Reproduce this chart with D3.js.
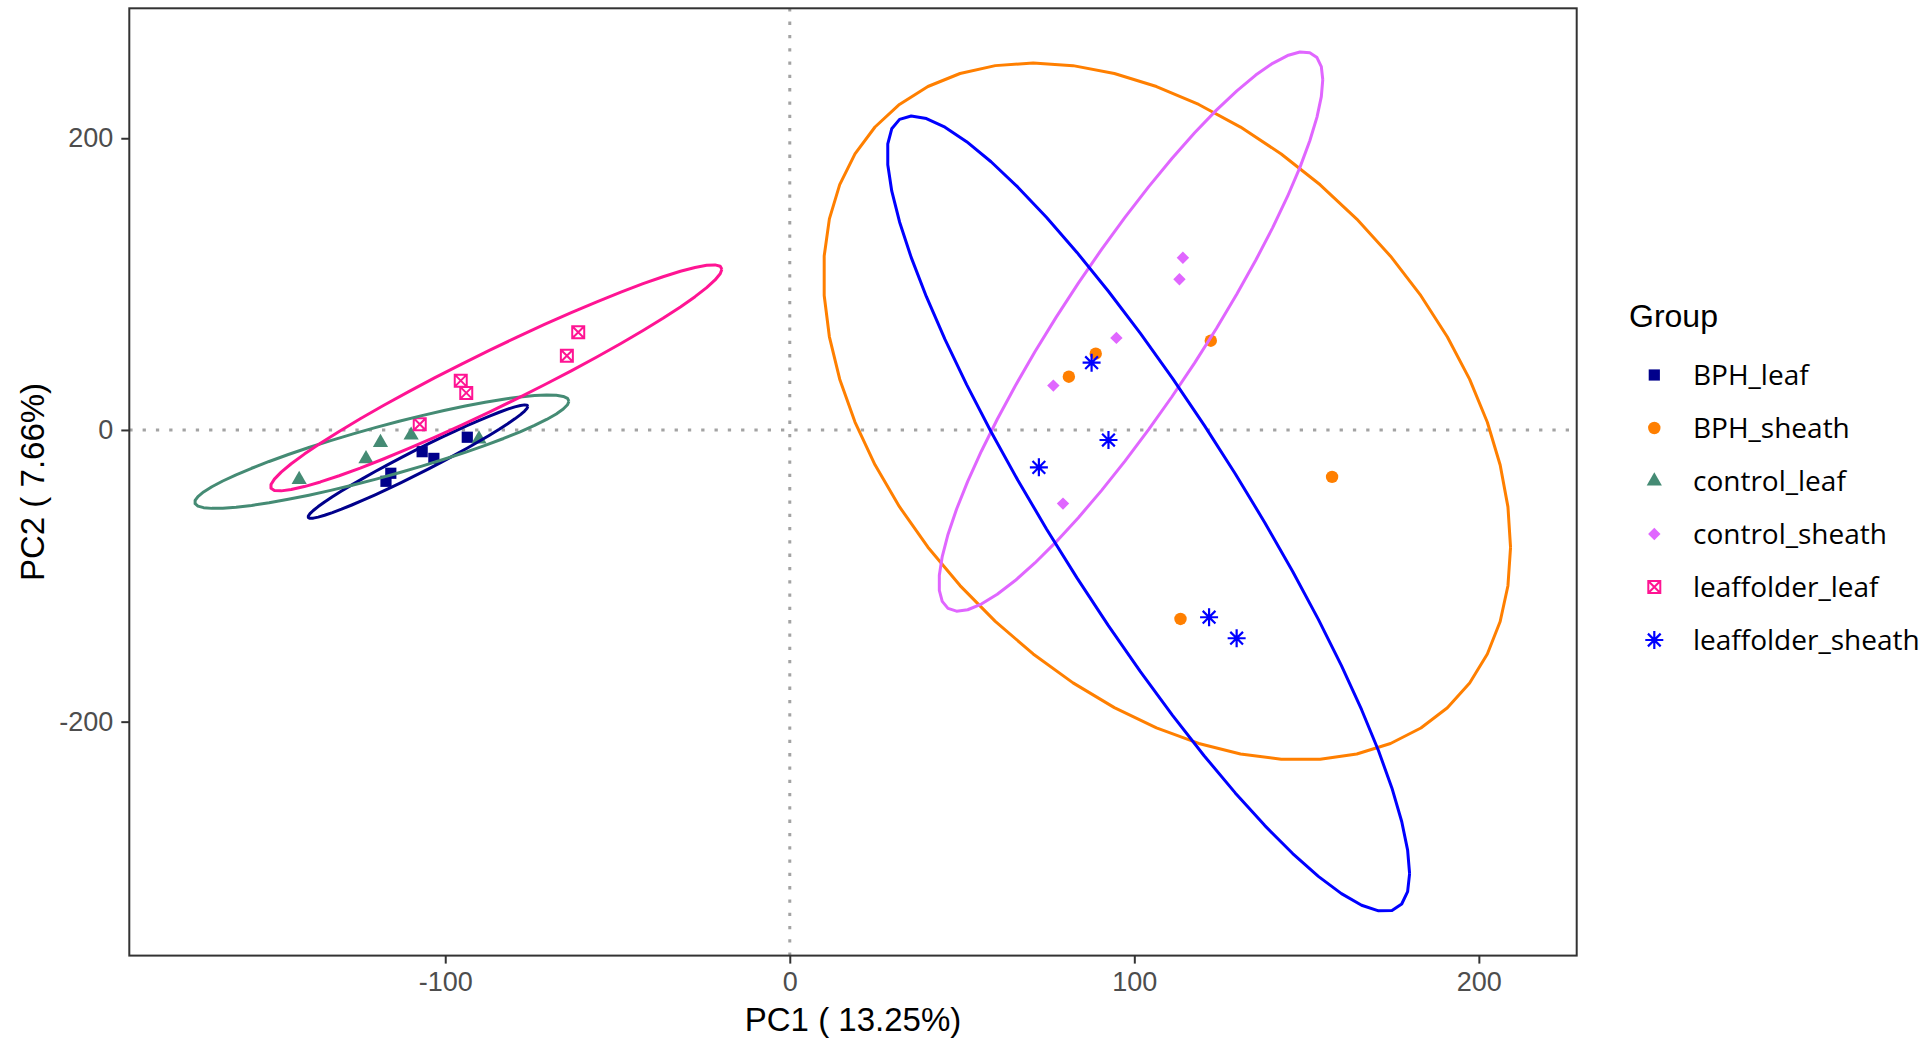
<!DOCTYPE html>
<html>
<head>
<meta charset="utf-8">
<script src="https://cdn.jsdelivr.net/npm/d3@7"></script>
<style>
  html, body { margin: 0; padding: 0; background: #ffffff; }
  svg { display: block; }
</style>
</head>
<body>
<svg id="chart" width="1929" height="1040"></svg>
<script>
// ---------------- data ----------------
const groups = ["BPH_leaf", "BPH_sheath", "control_leaf", "control_sheath", "leaffolder_leaf", "leaffolder_sheath"];
const groupColors = ["#00008B", "#FF7F00", "#458B74", "#E066FF", "#FF1493", "#0000FF"];
const groupShapes = ["square", "circle", "triangle", "diamond", "boxcross", "asterisk"];

const pointGroup = [
  "BPH_leaf", "BPH_leaf", "BPH_leaf", "BPH_leaf", "BPH_leaf",
  "BPH_sheath", "BPH_sheath", "BPH_sheath", "BPH_sheath", "BPH_sheath",
  "control_leaf", "control_leaf", "control_leaf", "control_leaf", "control_leaf",
  "control_sheath", "control_sheath", "control_sheath", "control_sheath", "control_sheath",
  "leaffolder_leaf", "leaffolder_leaf", "leaffolder_leaf", "leaffolder_leaf", "leaffolder_leaf",
  "leaffolder_sheath", "leaffolder_sheath", "leaffolder_sheath", "leaffolder_sheath", "leaffolder_sheath"
];
const pointPC1 = [
  -93.6, -106.7, -103.3, -115.8, -117.2,
  88.8, 81.0, 122.2, 157.4, 113.4,
  -142.4, -123.0, -118.8, -109.9, -90.2,
  114.1, 113.1, 94.8, 76.5, 79.3,
  -107.4, -95.5, -93.9, -64.7, -61.4,
  87.6, 92.5, 72.3, 121.7, 129.7
];
const pointPC2 = [
  -5.0, -14.9, -19.5, -29.7, -35.2,
  52.3, 36.5, 61.2, -32.2, -129.6,
  -34.0, -19.8, -8.6, -3.6, -6.2,
  118.1, 103.3, 63.1, 30.4, -50.5,
  3.9, 33.8, 25.4, 50.9, 67.0,
  46.1, -6.9, -25.6, -128.4, -142.8
];

// 95% ellipse per group (data units): centre, half-extent in x and y, correlation
const ellipseCx  = [-107.9, 109.5, -118.4, 99.0, -85.2, 104.1];
const ellipseCy  = [-21.7, 12.7, -14.9, 67.5, 35.7, -57.4];
const ellipseRx  = [31.9, 99.7, 54.3, 55.7, 65.5, 75.8];
const ellipseRy  = [38.9, 238.9, 38.9, 191.8, 77.5, 272.7];
const ellipseRho = [0.975, -0.39, 0.89, 0.90, 0.962, -0.905];

const xTicks = [-100, 0, 100, 200];
const yTicks = [-200, 0, 200];
const xTitle = "PC1 ( 13.25%)";
const yTitle = "PC2 ( 7.66%)";
const legendTitle = "Group";

// ---------------- layout ----------------
const plotL = 129.3, plotR = 1576.7, plotT = 8.3, plotB = 955.6;
const x = d3.scaleLinear().domain([-191.7, 228.4]).range([plotL, plotR]);
const y = d3.scaleLinear().domain([-360.4, 289.1]).range([plotB, plotT]);

const svg = d3.select("#chart");
const color = d3.scaleOrdinal().domain(groups).range(groupColors);
const shape = d3.scaleOrdinal().domain(groups).range(groupShapes);

function symbolPath(s) {
  switch (s) {
    case "square": return "M-5.6,-5.6h11.2v11.2h-11.2z";
    case "circle": return "M6.2,0A6.2,6.2,0,1,1,-6.2,0A6.2,6.2,0,1,1,6.2,0Z";
    case "triangle": return "M0,-8.8L7.6,4.4L-7.6,4.4Z";
    case "diamond": return "M0,-6.2L6.2,0L0,6.2L-6.2,0Z";
    case "boxcross": return "M-6,-6h12v12h-12zM-6,-6L6,6M6,-6L-6,6";
    case "asterisk": {
      const r = 9, d = r * Math.SQRT1_2;
      return `M${-r},0L${r},0M0,${-r}L0,${r}M${-d},${-d}L${d},${d}M${d},${-d}L${-d},${d}`;
    }
  }
}
function styleSymbol(sel, g) {
  const s = shape(g), c = color(g);
  if (s === "boxcross") sel.attr("fill", "none").attr("stroke", c).attr("stroke-width", 2);
  else if (s === "asterisk") sel.attr("fill", "none").attr("stroke", c).attr("stroke-width", 2.2);
  else sel.attr("fill", c).attr("stroke", "none");
}

// panel background
svg.append("rect").attr("x", plotL).attr("y", plotT)
  .attr("width", plotR - plotL).attr("height", plotB - plotT).attr("fill", "#ffffff");

// zero reference lines
svg.append("line")
  .attr("x1", x(0)).attr("x2", x(0)).attr("y1", plotT).attr("y2", plotB)
  .attr("stroke", "#A3A3A3").attr("stroke-width", 3).attr("stroke-dasharray", "3.3 10");
svg.append("line")
  .attr("x1", plotL).attr("x2", plotR).attr("y1", y(0)).attr("y2", y(0))
  .attr("stroke", "#A3A3A3").attr("stroke-width", 3).attr("stroke-dasharray", "3.3 10");

// points
const points = pointGroup.map((g, i) => ({ group: g, pc1: pointPC1[i], pc2: pointPC2[i] }));
svg.append("g").selectAll("path").data(points).join("path")
  .attr("d", d => symbolPath(shape(d.group)))
  .attr("transform", d => `translate(${x(d.pc1)},${y(d.pc2)})`)
  .each(function (d) { styleSymbol(d3.select(this), d.group); });

// ellipses
const nSeg = 51;
const ellipses = groups.map((g, k) => {
  const pts = [];
  const s = Math.sqrt(1 - ellipseRho[k] * ellipseRho[k]);
  for (let i = 0; i <= nSeg; i++) {
    const th = 2 * Math.PI * i / nSeg;
    pts.push([
      ellipseCx[k] + ellipseRx[k] * Math.cos(th),
      ellipseCy[k] + ellipseRy[k] * (ellipseRho[k] * Math.cos(th) + s * Math.sin(th))
    ]);
  }
  return { group: g, pts };
});
const line = d3.line().x(d => x(d[0])).y(d => y(d[1]));
svg.append("g").selectAll("path").data(ellipses).join("path")
  .attr("d", d => line(d.pts))
  .attr("fill", "none")
  .attr("stroke", d => color(d.group))
  .attr("stroke-width", 3)
  .attr("stroke-linejoin", "round");

// panel border
svg.append("rect").attr("x", plotL).attr("y", plotT)
  .attr("width", plotR - plotL).attr("height", plotB - plotT)
  .attr("fill", "none").attr("stroke", "#333333").attr("stroke-width", 2);

// axes
const xAxis = svg.append("g").attr("transform", `translate(0,${plotB})`)
  .call(d3.axisBottom(x).tickValues(xTicks).tickSize(8).tickPadding(8.5).tickFormat(d3.format("d")));
const yAxis = svg.append("g").attr("transform", `translate(${plotL},0)`)
  .call(d3.axisLeft(y).tickValues(yTicks).tickSize(8).tickPadding(8).tickFormat(d3.format("d")));
[xAxis, yAxis].forEach(a => {
  a.select(".domain").remove();
  a.selectAll(".tick line").attr("stroke", "#333333").attr("stroke-width", 2);
  a.selectAll(".tick text")
    .attr("fill", "#4D4D4D")
    .style("font-family", "'Liberation Sans', Arial, sans-serif")
    .style("font-size", "27px");
});
yAxis.selectAll(".tick text").text(d => d3.format("d")(d).replace("−", "-"));
xAxis.selectAll(".tick text").text(d => d3.format("d")(d).replace("−", "-"));

// axis titles
svg.append("text")
  .attr("x", (plotL + plotR) / 2).attr("y", 1030.7)
  .attr("text-anchor", "middle")
  .style("font-family", "'Liberation Sans', Arial, sans-serif")
  .style("font-size", "33px").attr("fill", "#000")
  .text(xTitle);
svg.append("text")
  .attr("transform", `translate(44,${(plotT + plotB) / 2}) rotate(-90)`)
  .attr("text-anchor", "middle")
  .style("font-family", "'Liberation Sans', Arial, sans-serif")
  .style("font-size", "33px").attr("fill", "#000")
  .text(yTitle);

// legend
const legend = svg.append("g");
legend.append("text")
  .attr("x", 1629).attr("y", 327)
  .style("font-family", "'Liberation Sans', Arial, sans-serif")
  .style("font-size", "32px").attr("fill", "#000")
  .text(legendTitle);
const legY0 = 375, legStep = 53;
const items = legend.selectAll("g.item").data(groups).join("g")
  .attr("class", "item")
  .attr("transform", (d, i) => `translate(0,${legY0 + i * legStep})`);
items.append("path")
  .attr("d", d => symbolPath(shape(d)))
  .attr("transform", "translate(1654.3,0)")
  .each(function (d) { styleSymbol(d3.select(this), d); });
items.append("text")
  .attr("x", 1693).attr("y", 10)
  .style("font-family", "'Open Sans', sans-serif")
  .style("font-size", "28px").attr("fill", "#000")
  .text(d => d);
</script>
</body>
</html>
